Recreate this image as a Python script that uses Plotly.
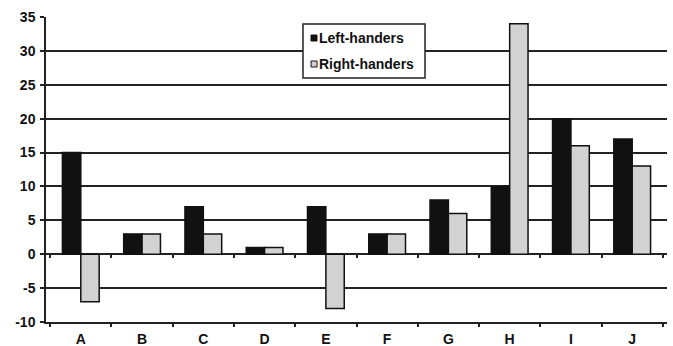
import plotly.graph_objects as go

categories = ["A", "B", "C", "D", "E", "F", "G", "H", "I", "J"]
left_handers = [15, 3, 7, 1, 7, 3, 8, 10, 20, 17]
right_handers = [-7, 3, 3, 1, -8, 3, 6, 34, 16, 13]
y_ticks = list(range(-10, 40, 5))
y_tick_text = [str(v) for v in y_ticks]

BLACK = "#111111"
GRAY = "#d2d2d2"
LINE = "#222222"
CLEAR = "rgba(0,0,0,0)"

# plot area in pixels: x 46..667, y 17..322
W, H = 673, 346
L, R, T, B = 46, 6, 17, 24
PW, PH = W - L - R, H - T - B


def px(x):
    return (x - L) / PW


def py(y):
    return (H - B - y) / PH


fig = go.Figure()
fig.add_trace(go.Bar(x=categories, y=left_handers, name="Left-handers", showlegend=False,
                     marker=dict(color=BLACK, line=dict(color=BLACK, width=1.5))))
fig.add_trace(go.Bar(x=categories, y=right_handers, name="Right-handers", showlegend=False,
                     marker=dict(color=GRAY, line=dict(color=BLACK, width=1.5))))
# legend entries (keys drawn as small squares next to the text)
fig.add_trace(go.Scatter(x=[None], y=[None], mode="markers", name="Left-handers",
                         marker=dict(symbol="square", size=6, color=CLEAR,
                                     line=dict(color=CLEAR, width=0)),
                         legend="legend"))
fig.add_trace(go.Scatter(x=[None], y=[None], mode="markers", name="Right-handers",
                         marker=dict(symbol="square", size=6, color=CLEAR,
                                     line=dict(color=CLEAR, width=0)),
                         legend="legend2"))
# tick marks along the zero line
fig.add_trace(go.Scatter(x=categories, y=[None] * len(categories), xaxis="x2",
                         showlegend=False, hoverinfo="skip"))

legend_font = dict(size=14, family="Liberation Sans, Arial", weight="bold", color=BLACK)

fig.update_layout(
    width=W, height=H,
    margin=dict(l=L, r=R, t=T, b=B, autoexpand=False),
    paper_bgcolor="white", plot_bgcolor="white",
    barmode="group", bargap=0.4, bargroupgap=0.0,
    font=dict(family="Liberation Sans, Arial, sans-serif", color=BLACK),
    xaxis=dict(showgrid=False, showline=True, linecolor=LINE, linewidth=1.5,
               ticks="outside", ticklen=3, tickcolor=LINE, tickwidth=1.5,
               tickson="boundaries", automargin=False, ticklabelstandoff=3,
               tickfont=dict(size=14, family="Liberation Sans, Arial", weight="bold"),
               zeroline=False),
    xaxis2=dict(overlaying="x", anchor="free", position=10 / 45, matches="x",
                showgrid=False, showline=False, showticklabels=False,
                ticks="outside", ticklen=3, tickcolor=LINE, tickwidth=1.5,
                tickson="boundaries", side="bottom", automargin=False),
    yaxis=dict(range=[-10, 35], tickvals=y_ticks, ticktext=y_tick_text,
               showgrid=True, gridcolor=LINE, gridwidth=1.5,
               showline=True, linecolor=LINE, linewidth=1.5,
               ticks="outside", ticklen=4, tickcolor=LINE, tickwidth=1.5,
               zeroline=True, zerolinecolor=LINE, zerolinewidth=1.5,
               automargin=False, ticklabelstandoff=2,
               tickfont=dict(size=14, family="Liberation Sans, Arial", weight="bold")),
    legend=dict(x=px(279), y=py(38), xanchor="left", yanchor="middle",
                bgcolor=CLEAR, borderwidth=0, font=legend_font, itemwidth=30),
    legend2=dict(x=px(279), y=py(64), xanchor="left", yanchor="middle",
                 bgcolor=CLEAR, borderwidth=0, font=legend_font, itemwidth=30),
    shapes=[
        dict(type="rect", xref="paper", yref="paper",
             x0=px(303), x1=px(425), y0=py(78), y1=py(24),
             fillcolor="white", line=dict(color=LINE, width=1.5), layer="above"),
        dict(type="rect", xref="paper", yref="paper",
             x0=px(311), x1=px(317), y0=py(41), y1=py(35),
             fillcolor=BLACK, line=dict(color=BLACK, width=1), layer="above"),
        dict(type="rect", xref="paper", yref="paper",
             x0=px(311), x1=px(317), y0=py(67), y1=py(61),
             fillcolor=GRAY, line=dict(color=BLACK, width=1), layer="above"),
    ],
)

fig.write_html("out.html", config={"displayModeBar": False},
               post_script="document.body.style.margin='0';")
